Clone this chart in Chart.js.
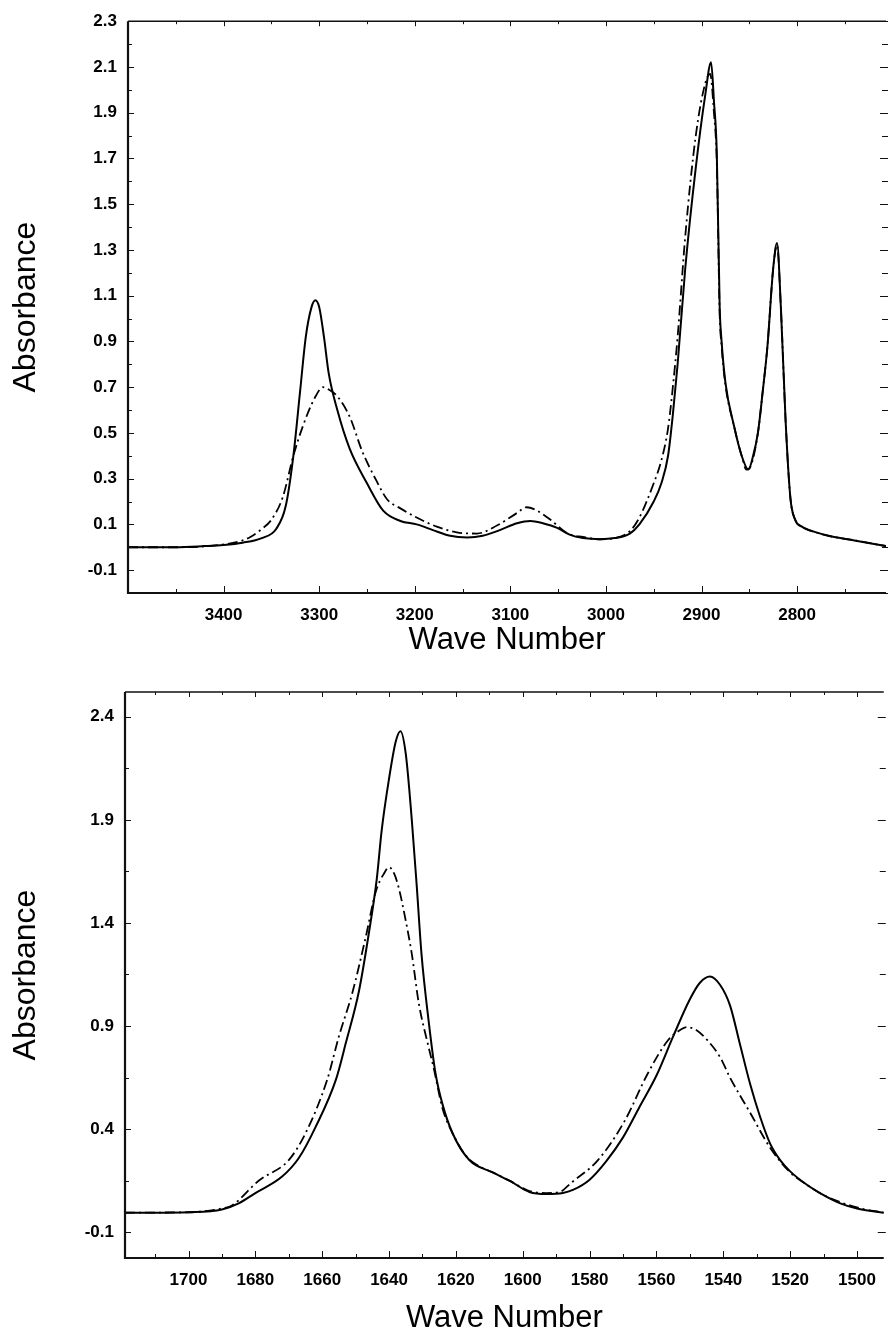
<!DOCTYPE html>
<html>
<head>
<meta charset="utf-8">
<script src="https://cdn.jsdelivr.net/npm/chart.js@4.4.1/dist/chart.umd.min.js"></script>
<style>
  body { margin: 0; background: #fff; }
  #wrap { position: relative; width: 888px; height: 1338px; }
  canvas { position: absolute; left: 0; }
  #topChart { top: 0; }
  #bottomChart { top: 660px; }
</style>
</head>
<body>
<div id="wrap">
  <canvas id="topChart" width="888" height="660"></canvas>
  <canvas id="bottomChart" width="888" height="678"></canvas>
</div>
<script>
// --- top panel (N-H / C-H stretch region) ---
const topXTicks = [3400, 3300, 3200, 3100, 3000, 2900, 2800];
const topYTicks = [-0.1, 0.1, 0.3, 0.5, 0.7, 0.9, 1.1, 1.3, 1.5, 1.7, 1.9, 2.1, 2.3];

const topSolidWn = [3500, 3450, 3420, 3400, 3380, 3360, 3345, 3335, 3327, 3320, 3314, 3308, 3304, 3300, 3295, 3290, 3281, 3268, 3250, 3233, 3215, 3198, 3181, 3163, 3145, 3129, 3111, 3093, 3079, 3066, 3051, 3038, 3024, 3006, 2991, 2975, 2965, 2950, 2942, 2935, 2930, 2925, 2917, 2906, 2896, 2890, 2887, 2884, 2881, 2879, 2875, 2866, 2858, 2851, 2846, 2841, 2836, 2831, 2825, 2821, 2817, 2812, 2807, 2802, 2795, 2780, 2767, 2740, 2707];
const topSolidAbs = [0.0, 0.0, 0.005, 0.01, 0.02, 0.04, 0.08, 0.18, 0.40, 0.68, 0.92, 1.05, 1.08, 1.05, 0.92, 0.76, 0.60, 0.43, 0.28, 0.16, 0.115, 0.10, 0.075, 0.05, 0.043, 0.05, 0.075, 0.105, 0.115, 0.105, 0.085, 0.055, 0.04, 0.035, 0.04, 0.06, 0.10, 0.20, 0.28, 0.40, 0.58, 0.80, 1.22, 1.66, 1.98, 2.12, 1.95, 1.72, 1.05, 0.90, 0.72, 0.53, 0.40, 0.34, 0.40, 0.50, 0.68, 0.88, 1.22, 1.33, 1.05, 0.55, 0.215, 0.12, 0.09, 0.065, 0.05, 0.03, 0.005];

const topDashWn = [3500, 3450, 3400, 3380, 3372, 3360, 3350, 3338, 3327, 3317, 3305, 3296, 3290, 3281, 3268, 3255, 3240, 3229, 3215, 3198, 3177, 3156, 3135, 3114, 3093, 3083, 3072, 3058, 3040, 3024, 3006, 2991, 2975, 2965, 2950, 2942, 2935, 2930, 2925, 2917, 2906, 2896, 2891, 2887, 2884, 2881, 2879, 2875, 2866, 2858, 2853, 2848, 2841, 2836, 2831, 2825, 2821, 2817, 2812, 2807, 2802, 2795, 2780, 2767, 2740, 2707];
const topDashAbs = [0.0, 0.0, 0.012, 0.03, 0.045, 0.08, 0.12, 0.22, 0.40, 0.53, 0.65, 0.70, 0.69, 0.66, 0.57, 0.42, 0.29, 0.21, 0.17, 0.13, 0.09, 0.065, 0.06, 0.095, 0.15, 0.175, 0.16, 0.12, 0.06, 0.045, 0.035, 0.04, 0.07, 0.13, 0.28, 0.38, 0.52, 0.70, 0.92, 1.36, 1.80, 2.03, 2.07, 1.90, 1.68, 1.02, 0.88, 0.71, 0.53, 0.40, 0.34, 0.36, 0.50, 0.68, 0.88, 1.22, 1.32, 1.05, 0.55, 0.215, 0.12, 0.09, 0.065, 0.05, 0.03, 0.005];

// --- bottom panel (amide I / II region) ---
const bottomXTicks = [1700, 1680, 1660, 1640, 1620, 1600, 1580, 1560, 1540, 1520, 1500];
const bottomYTicks = [-0.1, 0.4, 0.9, 1.4, 1.9, 2.4];

const bottomSolidWn = [1719, 1710, 1700, 1690, 1685, 1680, 1672, 1667, 1662, 1655.9, 1652.9, 1649, 1646.05, 1643.7, 1642.2, 1640.1, 1638, 1636.6, 1635, 1633.2, 1631.7, 1630.3, 1628.2, 1626.1, 1624, 1621, 1616, 1609, 1604, 1598, 1593, 1588, 1585, 1580, 1575, 1570, 1565, 1560, 1555, 1550, 1547, 1544, 1541, 1538, 1535, 1532, 1529, 1526, 1523, 1520, 1515, 1510, 1505, 1500, 1492];
const bottomSolidAbs = [-0.005, -0.005, -0.003, 0.01, 0.04, 0.09, 0.17, 0.26, 0.41, 0.64, 0.82, 1.07, 1.35, 1.61, 1.85, 2.09, 2.28, 2.33, 2.22, 1.90, 1.575, 1.25, 0.93, 0.67, 0.52, 0.38, 0.25, 0.19, 0.15, 0.095, 0.085, 0.09, 0.105, 0.155, 0.245, 0.36, 0.51, 0.66, 0.85, 1.03, 1.11, 1.14, 1.10, 1.00, 0.81, 0.62, 0.46, 0.33, 0.25, 0.195, 0.13, 0.08, 0.04, 0.015, -0.005];

const bottomDashWn = [1719, 1700, 1690, 1687, 1679, 1670, 1665, 1658.5, 1655, 1651, 1647, 1644, 1641.5, 1640, 1638.5, 1637.1, 1635, 1633.2, 1631.1, 1628.2, 1626.7, 1624, 1621, 1617, 1613, 1609, 1604, 1598, 1593, 1589, 1585.5, 1577.5, 1569.5, 1562.6, 1556.6, 1553, 1551, 1548, 1544.7, 1541, 1538, 1532, 1526, 1520, 1515, 1510, 1500, 1492];
const bottomDashAbs = [-0.005, -0.003, 0.015, 0.03, 0.15, 0.25, 0.38, 0.64, 0.85, 1.06, 1.33, 1.55, 1.64, 1.67, 1.64, 1.57, 1.41, 1.25, 1.01, 0.80, 0.70, 0.50, 0.38, 0.27, 0.22, 0.19, 0.15, 0.10, 0.09, 0.095, 0.14, 0.25, 0.44, 0.67, 0.83, 0.88, 0.895, 0.88, 0.83, 0.75, 0.65, 0.48, 0.31, 0.19, 0.13, 0.08, 0.02, -0.005];

Chart.defaults.font.family = "'Liberation Sans', Arial, Helvetica, sans-serif";
Chart.defaults.color = '#000';

function toPoints(xs, ys) {
    return xs.map((x, i) => ({ x: x, y: ys[i] }));
}

// minor ticks halfway between the labelled ones, plus one beyond each end
function halfSteps(major) {
    const step = major[1] - major[0];
    const out = [major[0] - step / 2];
    major.forEach(v => out.push(v + step / 2));
    return out;
}

// inward ticks on all four sides + axis frame (no right border line, like the scan)
const frameTicks = {
    id: 'frameTicks',
    afterDatasetsDraw(chart, args, opts) {
        const { ctx, chartArea: a, scales: { x, y } } = chart;
        ctx.save();
        ctx.strokeStyle = '#111';
        ctx.lineWidth = 2.2;
        ctx.beginPath();
        ctx.moveTo(a.left, a.top);
        ctx.lineTo(a.left, a.bottom);
        ctx.lineTo(a.right, a.bottom);
        ctx.stroke();
        ctx.lineWidth = 1.4;
        ctx.beginPath();
        ctx.moveTo(a.left, a.top);
        ctx.lineTo(a.right, a.top);
        ctx.stroke();

        ctx.lineWidth = 1;
        ctx.beginPath();
        const inRangeX = v => v >= x.min && v <= x.max;
        const inRangeY = v => v >= y.min && v <= y.max;
        opts.xMajor.filter(inRangeX).forEach(v => {
            const px = Math.round(x.getPixelForValue(v)) + 0.5;
            ctx.moveTo(px, a.bottom); ctx.lineTo(px, a.bottom - 7);
            ctx.moveTo(px, a.top); ctx.lineTo(px, a.top + 5);
        });
        opts.xMinor.filter(inRangeX).forEach(v => {
            const px = Math.round(x.getPixelForValue(v)) + 0.5;
            ctx.moveTo(px, a.bottom); ctx.lineTo(px, a.bottom - 4);
            ctx.moveTo(px, a.top); ctx.lineTo(px, a.top + 3);
        });
        opts.yMajor.filter(inRangeY).forEach(v => {
            const py = Math.round(y.getPixelForValue(v)) + 0.5;
            ctx.moveTo(a.left, py); ctx.lineTo(a.left + 6, py);
            ctx.moveTo(a.right + 2, py); ctx.lineTo(a.right - 6, py);
        });
        opts.yMinor.filter(inRangeY).forEach(v => {
            const py = Math.round(y.getPixelForValue(v)) + 0.5;
            ctx.moveTo(a.left, py); ctx.lineTo(a.left + 4, py);
            ctx.moveTo(a.right + 2, py); ctx.lineTo(a.right - 4, py);
        });
        ctx.stroke();
        ctx.restore();
    }
};

function makeChart(id, cfg) {
    const ctx = document.getElementById(id).getContext('2d');
    return new Chart(ctx, {
        type: 'line',
        data: {
            datasets: [{
                label: 'solid',
                data: toPoints(cfg.solidWn, cfg.solidAbs),
                borderColor: '#000',
                borderWidth: 2,
                pointRadius: 0,
                cubicInterpolationMode: 'monotone',
                fill: false
            }, {
                label: 'dash-dot',
                data: toPoints(cfg.dashWn, cfg.dashAbs),
                borderColor: '#000',
                borderWidth: 1.8,
                borderDash: [10, 4, 2, 4],
                pointRadius: 0,
                cubicInterpolationMode: 'monotone',
                fill: false
            }]
        },
        options: {
            responsive: false,
            animation: false,
            devicePixelRatio: 1,
            layout: { padding: { top: cfg.padTop, right: 2, left: 0, bottom: 0 } },
            plugins: {
                legend: { display: false },
                tooltip: { enabled: false },
                frameTicks: {
                    xMajor: cfg.xTicks,
                    xMinor: halfSteps(cfg.xTicks),
                    yMajor: cfg.yTicks,
                    yMinor: halfSteps(cfg.yTicks)
                }
            },
            scales: {
                x: {
                    type: 'linear',
                    reverse: true,
                    min: cfg.xMin,
                    max: cfg.xMax,
                    grid: { display: false, drawTicks: false },
                    border: { display: false },
                    afterBuildTicks: axis => { axis.ticks = cfg.xTicks.map(v => ({ value: v })); },
                    afterFit: axis => { axis.height = cfg.xHeight; },
                    ticks: {
                        padding: 12,
                        maxRotation: 0,
                        autoSkip: false,
                        font: { size: 17, weight: 'bold' },
                        callback: v => String(v)
                    },
                    title: {
                        display: true,
                        text: 'Wave Number',
                        font: { size: 31 },
                        padding: { top: 0, bottom: cfg.xTitlePad }
                    }
                },
                y: {
                    type: 'linear',
                    min: cfg.yMin,
                    max: cfg.yMax,
                    grid: { display: false, drawTicks: false },
                    border: { display: false },
                    afterBuildTicks: axis => { axis.ticks = cfg.yTicks.map(v => ({ value: v })); },
                    afterFit: axis => { axis.width = cfg.yWidth; },
                    ticks: {
                        padding: 11,
                        autoSkip: false,
                        font: { size: 17, weight: 'bold' },
                        callback: v => Number(v).toFixed(1)
                    },
                    title: {
                        display: true,
                        text: 'Absorbance',
                        font: { size: 32 },
                        padding: { top: 7, bottom: 0 }
                    }
                }
            }
        },
        plugins: [frameTicks]
    });
}

makeChart('topChart', {
    solidWn: topSolidWn, solidAbs: topSolidAbs,
    dashWn: topDashWn, dashAbs: topDashAbs,
    xTicks: topXTicks, yTicks: topYTicks,
    xMin: 2707, xMax: 3500, yMin: -0.2, yMax: 2.3,
    padTop: 20, xHeight: 67, yWidth: 128, xTitlePad: 1
});

makeChart('bottomChart', {
    solidWn: bottomSolidWn, solidAbs: bottomSolidAbs,
    dashWn: bottomDashWn, dashAbs: bottomDashAbs,
    xTicks: bottomXTicks, yTicks: bottomYTicks,
    xMin: 1492, xMax: 1719, yMin: -0.225, yMax: 2.52,
    padTop: 32, xHeight: 80, yWidth: 125, xTitlePad: 1
});
</script>
</body>
</html>
